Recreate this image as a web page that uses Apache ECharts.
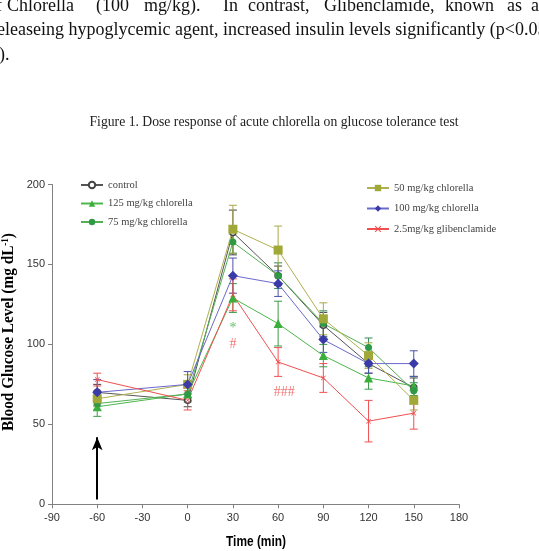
<!DOCTYPE html>
<html>
<head>
<meta charset="utf-8">
<script src="https://cdn.jsdelivr.net/npm/echarts@6/dist/echarts.min.js"></script>
<style>
  html, body { margin: 0; padding: 0; background: #fff; }
  #chart { width: 539px; height: 551px; }
</style>
</head>
<body>
<div id="chart"></div>
<script>
// sampling times (min)
const times = [-60, 0, 30, 60, 90, 120, 150];

// mean blood glucose (mg/dL) and error bars per group
const controlMean = [70, 65, 170, 143, 112, 88, 73];
const controlErr  = [5, 4, 14, 6, 8, 6, 6];
const c125Mean = [61, 69, 129, 113, 93, 79, 74];
const c125Err  = [6, 5, 9, 14, 7, 7, 6];
const c75Mean  = [63, 69, 164, 143, 113, 98, 71];
const c75Err   = [4, 4, 7, 8, 8, 6, 5];
const c50Mean  = [66, 75, 172, 159, 116, 93, 65];
const c50Err   = [5, 6, 15, 15, 10, 8, 6];
const c100Mean = [70, 75, 143, 138, 103, 88, 88];
const c100Err  = [8, 8, 11, 8, 8, 6, 8];
const glibMean = [78, 65, 131, 89, 79, 52, 57];
const glibErr  = [4, 6, 10, 9, 9, 13, 10];

// significance marks
const annoTimes  = [30, 30, 64];
const annoValues = [110, 100, 70];
const annoTexts  = ['*', '#', '###'];
const annoColors = ['#3cb043', '#f05050', '#f05050'];

// dosing arrow
const arrowTime = -60;
const arrowFrom = 3;
const arrowTo = 42;

const xTicks = { min: -90, max: 180, step: 30 };
const yTicks = { min: 0, max: 200, step: 50 };

const crossPath = 'path://M0,1L1,0L5,4L9,0L10,1L6,5L10,9L9,10L5,6L1,10L0,9L4,5Z';

function pairs(mean) {
  return times.map((t, i) => [t, mean[i]]);
}
function errData(mean, err) {
  return times.map((t, i) => [t, mean[i] - err[i], mean[i] + err[i]]);
}
function errRender(color, capW) {
  return function (params, api) {
    const x = api.value(0);
    const top = api.coord([x, api.value(2)]);
    const bot = api.coord([x, api.value(1)]);
    const h = capW / 2;
    const st = { stroke: color, lineWidth: 1 };
    return {
      type: 'group',
      children: [
        { type: 'line', shape: { x1: top[0], y1: top[1], x2: bot[0], y2: bot[1] }, style: st },
        { type: 'line', shape: { x1: top[0] - h, y1: top[1], x2: top[0] + h, y2: top[1] }, style: st },
        { type: 'line', shape: { x1: bot[0] - h, y1: bot[1], x2: bot[0] + h, y2: bot[1] }, style: st }
      ]
    };
  };
}
function errSeries(name, mean, err, color) {
  return {
    name: name + ' err',
    type: 'custom',
    renderItem: errRender(color, 8),
    encode: { x: 0, y: [1, 2] },
    data: errData(mean, err),
    z: 1,
    silent: true
  };
}

const groups = [
  { name: 'control', mean: controlMean, err: controlErr, line: '#555', mark: '#444', fill: '#fff', symbol: 'circle', size: 6, bar: '#444' },
  { name: '125 mg/kg chlorella', mean: c125Mean, err: c125Err, line: '#4cb84c', mark: '#3cae3c', symbol: 'triangle', size: 9, bar: '#3a9a4a' },
  { name: '75 mg/kg chlorella', mean: c75Mean, err: c75Err, line: '#55b055', mark: '#2f9a45', symbol: 'circle', size: 7, bar: '#2e8b57' },
  { name: '50 mg/kg chlorella', mean: c50Mean, err: c50Err, line: '#b0b050', mark: '#a0a838', symbol: 'rect', size: 9, bar: '#a8a848' },
  { name: '100 mg/kg chlorella', mean: c100Mean, err: c100Err, line: '#6a6acc', mark: '#3a3aa8', symbol: 'diamond', size: 10, bar: '#5050b0' },
  { name: '2.5mg/kg glibenclamide', mean: glibMean, err: glibErr, line: '#f05050', mark: '#f04848', symbol: crossPath, size: 5, bar: '#f05050' }
];

const series = [];
groups.forEach(g => {
  series.push(errSeries(g.name, g.mean, g.err, g.bar));
});
groups.forEach(g => {
  const s = {
    name: g.name,
    type: 'line',
    data: pairs(g.mean),
    symbol: g.symbol,
    symbolSize: g.size,
    showSymbol: true,
    lineStyle: { color: g.line, width: 1 },
    itemStyle: g.fill ? { color: g.fill, borderColor: g.mark, borderWidth: 1.5 } : { color: g.mark },
    z: 3
  };
  if (g.name === 'control') {
    s.markLine = {
      silent: true,
      symbol: ['none', 'arrow'],
      symbolSize: [8, 13],
      label: { show: false },
      lineStyle: { color: '#000', width: 2, type: 'solid' },
      data: [[{ coord: [arrowTime, arrowFrom] }, { coord: [arrowTime, arrowTo] }]]
    };
  }
  series.push(s);
});
series.push({
  name: 'marks',
  type: 'scatter',
  symbolSize: 0,
  silent: true,
  data: annoTimes.map((t, i) => ({
    value: [t, annoValues[i]],
    name: annoTexts[i],
    label: { color: annoColors[i] }
  })),
  label: {
    show: true,
    position: 'inside',
    formatter: '{b}',
    fontFamily: 'Liberation Serif',
    fontSize: 14
  },
  z: 4
});

const legendText = { fontFamily: 'Liberation Serif', fontSize: 10.5, color: '#444', lineHeight: 14 };
const pageFont = '18px "Liberation Serif"';

const chart = echarts.init(document.getElementById('chart'));
chart.setOption({
  animation: false,
  backgroundColor: '#fff',
  grid: { left: 52, right: 80, top: 184.5, bottom: 46.7, containLabel: false },
  legend: [
    {
      data: ['control', '125 mg/kg chlorella', '75 mg/kg chlorella'],
      orient: 'vertical', left: 80, top: 178, padding: 0,
      itemWidth: 22, itemHeight: 8, itemGap: 4.5,
      textStyle: legendText
    },
    {
      data: ['50 mg/kg chlorella', '100 mg/kg chlorella', '2.5mg/kg glibenclamide'],
      orient: 'vertical', left: 366, top: 181, padding: 0,
      itemWidth: 22, itemHeight: 8, itemGap: 6.5,
      textStyle: legendText
    }
  ],
  xAxis: {
    type: 'value',
    min: xTicks.min, max: xTicks.max, interval: xTicks.step,
    splitLine: { show: false },
    axisLine: { show: true, onZero: false, lineStyle: { color: '#808080' } },
    axisTick: { show: true, length: 4, lineStyle: { color: '#808080' } },
    axisLabel: { fontFamily: 'Liberation Sans', fontSize: 11, color: '#333', margin: 8 }
  },
  yAxis: {
    type: 'value',
    min: yTicks.min, max: yTicks.max, interval: yTicks.step,
    splitLine: { show: false },
    axisLine: { show: true, onZero: false, lineStyle: { color: '#808080' } },
    axisTick: { show: true, length: 4, lineStyle: { color: '#808080' } },
    axisLabel: { fontFamily: 'Liberation Sans', fontSize: 11, color: '#333', margin: 7 }
  },
  graphic: [
    // page text above the figure
    { type: 'text', left: -4, top: -3, style: { text: 'f', font: pageFont, fill: '#111' } },
    { type: 'text', left: 7, top: -3, style: { text: 'Chlorella', font: pageFont, fill: '#111' } },
    { type: 'text', left: 96, top: -3, style: { text: '(100', font: pageFont, fill: '#111' } },
    { type: 'text', left: 144, top: -3, style: { text: 'mg/kg).', font: pageFont, fill: '#111' } },
    { type: 'text', left: 223, top: -3, style: { text: 'In', font: pageFont, fill: '#111' } },
    { type: 'text', left: 248, top: -3, style: { text: 'contrast,', font: pageFont, fill: '#111' } },
    { type: 'text', left: 324, top: -3, style: { text: 'Glibenclamide,', font: pageFont, fill: '#111' } },
    { type: 'text', left: 445, top: -3, style: { text: 'known', font: pageFont, fill: '#111' } },
    { type: 'text', left: 507, top: -3, style: { text: 'as', font: pageFont, fill: '#111' } },
    { type: 'text', left: 531, top: -3, style: { text: 'a', font: pageFont, fill: '#111' } },
    { type: 'text', left: -3, top: 21, style: { text: 'eleaseing hypoglycemic agent, increased insulin levels significantly (p<0.05', font: pageFont, fill: '#111' } },
    { type: 'text', left: -1, top: 46, style: { text: ').', font: pageFont, fill: '#111' } },
    // figure caption
    {
      type: 'text', x: 274, y: 122,
      style: {
        text: 'Figure 1. Dose response of acute chlorella on glucose tolerance test',
        font: '13.7px "Liberation Serif"', fill: '#222', align: 'center', verticalAlign: 'middle'
      }
    },
    // axis titles
    {
      type: 'text', x: 9, y: 332, rotation: Math.PI / 2, scaleX: 0.9,
      style: {
        text: 'Blood Glucose Level (mg dL{s|-1})',
        font: 'bold 17px "Liberation Serif"', fill: '#000', align: 'center', verticalAlign: 'middle',
        rich: { s: { font: 'bold 10px "Liberation Serif"', fill: '#000', verticalAlign: 'top', padding: [0, 0, 8, 0] } }
      }
    },
    {
      type: 'text', x: 256, y: 542, scaleX: 0.85,
      style: {
        text: 'Time (min)',
        font: 'bold 14px "Liberation Sans"', fill: '#000', align: 'center', verticalAlign: 'middle'
      }
    }
  ],
  series: series
});
</script>
</body>
</html>
